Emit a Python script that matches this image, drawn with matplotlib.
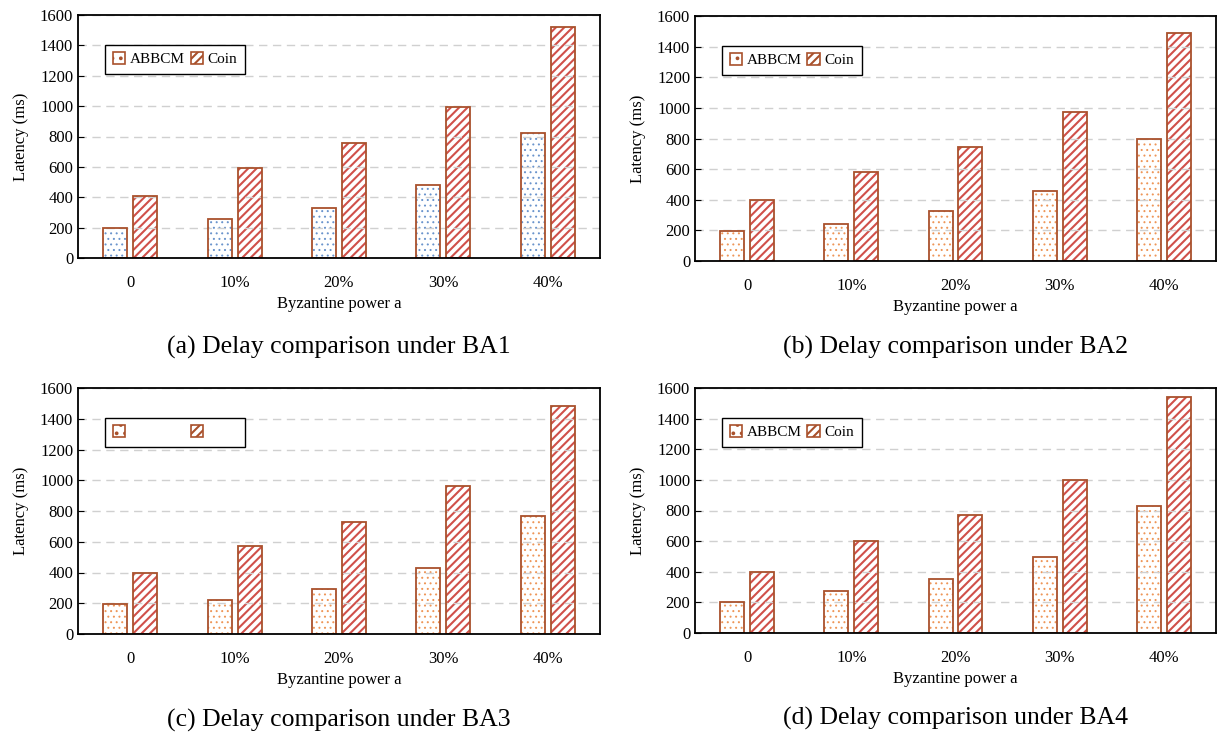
import matplotlib.pyplot as plt
import numpy as np

plt.rcParams['font.family'] = ['Liberation Serif', 'DejaVu Serif']
plt.rcParams['hatch.linewidth'] = 1.5

# data
categories = ['0', '10%', '20%', '30%', '40%']
abbcm_ba1 = [195, 260, 330, 480, 825]
coin_ba1 = [405, 590, 760, 995, 1520]
abbcm_ba2 = [195, 240, 325, 460, 800]
coin_ba2 = [400, 580, 745, 970, 1490]
abbcm_ba3 = [195, 220, 295, 430, 765]
coin_ba3 = [400, 575, 730, 960, 1485]
abbcm_ba4 = [200, 275, 355, 495, 830]
coin_ba4 = [400, 600, 770, 1000, 1540]
titles = ['(a) Delay comparison under BA1', '(b) Delay comparison under BA2',
          '(c) Delay comparison under BA3', '(d) Delay comparison under BA4']

edge = '#a9512c'
coin_hatch = '#d0504a'

fig = plt.figure(figsize=(12.21, 7.37), dpi=100)
W, H = 1221, 737
# axes boxes in pixels: left, top, right, bottom
boxes = [(78, 15, 600, 258), (695, 16, 1216, 261),
         (78, 388, 600, 634), (695, 388, 1216, 633)]
panels = [(abbcm_ba1, coin_ba1, '#6a94cc'), (abbcm_ba2, coin_ba2, '#ee9658'),
          (abbcm_ba3, coin_ba3, '#ee9658'), (abbcm_ba4, coin_ba4, '#ee9658')]
title_y = [347, 347, 720, 718]

x = np.arange(len(categories))
w = 0.23
off = 0.143


def thin_hatch(bars, lw):
    for p in bars:
        if hasattr(p, 'set_hatch_linewidth'):
            p.set_hatch_linewidth(lw)


for i, ((l, t, r, b), (abbcm, coin, dotc)) in enumerate(zip(boxes, panels)):
    ax = fig.add_axes([l / W, 1 - b / H, (r - l) / W, (b - t) / H])
    # hatched fills first, then outlines on top
    with plt.rc_context({'hatch.linewidth': 0.7}):
        dots = ax.bar(x - off, abbcm, w, color='white', edgecolor=dotc, hatch='...',
                      linewidth=0, zorder=2)
    thin_hatch(dots, 0.7)
    ax.bar(x + off, coin, w, color='white', edgecolor=coin_hatch, hatch='////',
           linewidth=0, zorder=2)
    ax.bar(x - off, abbcm, w, fill=False, edgecolor=edge, linewidth=1.3, zorder=3)
    ax.bar(x + off, coin, w, fill=False, edgecolor=edge, linewidth=1.3, zorder=3)

    ax.set_xlim(-0.5, 4.5)
    ax.set_ylim(0, 1600)
    ax.set_yticks(range(0, 1601, 200))
    ax.set_xticks(x)
    ax.set_xticklabels(categories)
    ax.tick_params(axis='x', length=0, labelsize=12, pad=12)
    ax.tick_params(axis='y', direction='in', length=4, labelsize=12)
    ax.yaxis.grid(True, ls=(0, (6, 4)), color='#d0d0d0', lw=1, zorder=4)
    ax.set_axisbelow(False)
    for s in ax.spines.values():
        s.set_linewidth(1.3)
        s.set_zorder(6)
    ax.set_ylabel('Latency (ms)', fontsize=12, labelpad=8)
    ax.set_xlabel('Byzantine power a', fontsize=12, labelpad=4)

    # legend proxies
    h1 = plt.Rectangle((0, 0), 1, 1, facecolor='white', edgecolor=edge, hatch='..', lw=1.2)
    h2 = plt.Rectangle((0, 0), 1, 1, facecolor='white', edgecolor=edge, hatch='////', lw=1.2)
    leg = ax.legend([h1, h2], ['ABBCM', 'Coin'], loc='upper left',
                    bbox_to_anchor=(0.037, 0.91), ncol=2, fontsize=11,
                    handlelength=0.8, handleheight=0.8, handletextpad=0.3,
                    columnspacing=0.4, borderpad=0.5, fancybox=False,
                    edgecolor='black', framealpha=1)
    leg.get_frame().set_linewidth(1.0)
    leg.set_zorder(7)
    if i == 2:
        for txt in leg.get_texts():
            txt.set_alpha(0)

    cx = (l + r) / 2 / W
    fig.text(cx, 1 - title_y[i] / H, titles[i], ha='center', va='center', fontsize=18.5)

fig.savefig('out.png', dpi=100)
